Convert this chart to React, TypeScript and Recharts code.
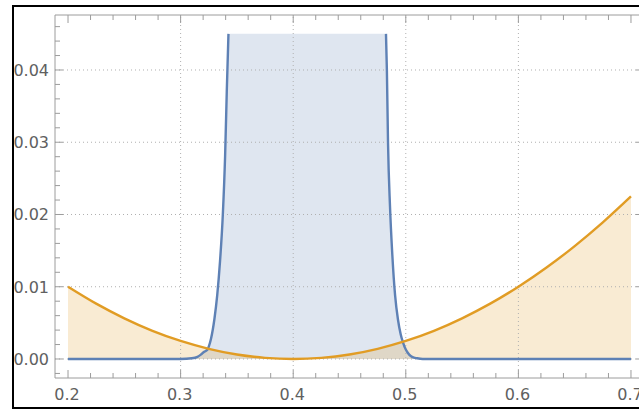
import React from 'react';
import { ComposedChart, Area, Line, XAxis, YAxis, ReferenceLine } from 'recharts';

// x positions (union of both series' sample points)
const xs = [
  0.2, 0.225, 0.25, 0.275, 0.3, 0.31, 0.315, 0.318, 0.321, 0.324, 0.325, 0.327, 0.33,
  0.3325, 0.335, 0.3375, 0.3395, 0.341, 0.3425, 0.35, 0.375, 0.4, 0.425, 0.45, 0.475,
  0.4824, 0.4832, 0.4842, 0.486, 0.488, 0.4905, 0.493, 0.4955, 0.4975, 0.5, 0.503,
  0.506, 0.51, 0.515, 0.525, 0.55, 0.575, 0.6, 0.625, 0.65, 0.675, 0.7,
];

// orange series (null where not sampled)
const orangeY: (number | null)[] = [
  0.01, 0.00766, 0.00563, 0.0039, 0.0025, null, null, null, null, null, 0.00141, null, null,
  null, null, null, null, null, null, 0.000625, 0.00016, 0, 0.00016, 0.000625, 0.00141,
  null, null, null, null, null, null, null, null, null, 0.0025, null,
  null, null, null, 0.0039, 0.00563, 0.00766, 0.01, 0.01266, 0.01563, 0.01891, 0.0225,
];

// blue series (clipped at the plot range top, 0.045)
const blueY = [
  0, 0, 0, 0, 0, 0.0001, 0.0003, 0.0006, 0.001, 0.0013, 0.0017, 0.0028, 0.0055,
  0.0088, 0.0135, 0.02, 0.028, 0.037, 0.045, 0.045, 0.045, 0.045, 0.045, 0.045, 0.045,
  0.045, 0.04, 0.03, 0.021, 0.0145, 0.0088, 0.0055, 0.0034, 0.0023, 0.0013, 0.0006,
  0.00025, 0.0001, 0, 0, 0, 0, 0, 0, 0, 0, 0,
];
const blueClipStart = 0.3425;
const blueClipEnd = 0.4824;

const xMajorTicks = [0.2, 0.3, 0.4, 0.5, 0.6, 0.7];
const xTickLabels = ['0.2', '0.3', '0.4', '0.5', '0.6', '0.7'];
const xMinorTicks = [
  0.22, 0.24, 0.26, 0.28, 0.32, 0.34, 0.36, 0.38, 0.42, 0.44, 0.46, 0.48,
  0.52, 0.54, 0.56, 0.58, 0.62, 0.64, 0.66, 0.68,
];
const yMajorTicks = [0, 0.01, 0.02, 0.03, 0.04];
const yTickLabels = ['0.00', '0.01', '0.02', '0.03', '0.04'];
const yMinorTicks = [
  -0.002, 0.002, 0.004, 0.006, 0.008, 0.012, 0.014, 0.016, 0.018, 0.022, 0.024, 0.026,
  0.028, 0.032, 0.034, 0.036, 0.038, 0.042, 0.044, 0.046,
];
const xGridValues = [0.3, 0.4, 0.5, 0.6];
const yGridValues = [0, 0.01, 0.02, 0.03, 0.04];

const X_DOMAIN: [number, number] = [0.18844, 0.71156];
const Y_DOMAIN: [number, number] = [-0.00263, 0.04761];

const BLUE = '#5e81b5';
const ORANGE = '#e19c24';
const FRAME = '#9c9c9c';
const LABEL = '#606060';
const FONT = 'DejaVu Sans';

const data = xs.map((x, i) => ({
  x,
  orange: orangeY[i],
  blueFill: blueY[i],
  blueLine: x > blueClipStart && x < blueClipEnd ? null : blueY[i],
}));

const allX = [...xMajorTicks, ...xMinorTicks].sort((a, b) => a - b);
const allY = [...yMajorTicks, ...yMinorTicks].sort((a, b) => a - b);

type Side = 'bottom' | 'top' | 'left' | 'right';

const makeTick = (side: Side, majors: number[], labels?: string[]) => (props: any) => {
  const { x, y, payload } = props;
  const idx = majors.indexOf(payload.value);
  const len = idx >= 0 ? 8 : 5;
  let line: React.ReactNode = null;
  let label: React.ReactNode = null;
  if (side === 'bottom') {
    line = <line x1={x} x2={x} y1={y} y2={y - len} stroke={FRAME} strokeWidth={1} />;
    if (labels && idx >= 0)
      label = (
        <text x={x - 1} y={y + 22} textAnchor="middle" fontFamily={FONT} fontSize={16} fill={LABEL}>
          {labels[idx]}
        </text>
      );
  } else if (side === 'top') {
    line = <line x1={x} x2={x} y1={y} y2={y + len} stroke={FRAME} strokeWidth={1} />;
  } else if (side === 'left') {
    line = <line x1={x} x2={x + len} y1={y} y2={y} stroke={FRAME} strokeWidth={1} />;
    if (labels && idx >= 0)
      label = (
        <text x={49} y={y + 6} textAnchor="end" fontFamily={FONT} fontSize={16} fill={LABEL}>
          {labels[idx]}
        </text>
      );
  } else {
    line = <line x1={x} x2={x - len} y1={y} y2={y} stroke={FRAME} strokeWidth={1} />;
  }
  return (
    <g>
      {line}
      {label}
    </g>
  );
};

export default function App() {
  return (
    <div
      style={{
        position: 'absolute',
        left: 0,
        top: 0,
        width: 639,
        height: 410,
        overflow: 'hidden',
        background: '#fff',
      }}
    >
      <ComposedChart width={660} height={410} data={data} margin={{ top: 14, right: 0, bottom: 0, left: 0 }}>
        <XAxis
          dataKey="x"
          type="number"
          domain={X_DOMAIN}
          allowDataOverflow
          ticks={allX}
          interval={0}
          tickSize={0}
          tickMargin={0}
          height={32}
          axisLine={{ stroke: FRAME, strokeWidth: 1 }}
          tickLine={false}
          tick={makeTick('bottom', xMajorTicks, xTickLabels)}
        />
        <XAxis
          xAxisId="top"
          orientation="top"
          dataKey="x"
          type="number"
          domain={X_DOMAIN}
          allowDataOverflow
          ticks={allX}
          interval={0}
          tickSize={0}
          tickMargin={0}
          height={1}
          axisLine={{ stroke: FRAME, strokeWidth: 1 }}
          tickLine={false}
          tick={makeTick('top', xMajorTicks)}
        />
        <YAxis
          type="number"
          domain={Y_DOMAIN}
          allowDataOverflow
          ticks={allY}
          interval={0}
          tickSize={0}
          tickMargin={0}
          width={55}
          axisLine={{ stroke: FRAME, strokeWidth: 1 }}
          tickLine={false}
          tick={makeTick('left', yMajorTicks, yTickLabels)}
        />
        <YAxis
          yAxisId="right"
          orientation="right"
          type="number"
          domain={Y_DOMAIN}
          allowDataOverflow
          ticks={allY}
          interval={0}
          tickSize={0}
          tickMargin={0}
          width={16}
          axisLine={{ stroke: FRAME, strokeWidth: 1 }}
          tickLine={false}
          tick={makeTick('right', yMajorTicks)}
        />
        {xGridValues.map((v) => (
          <ReferenceLine key={'gx' + v} x={v} stroke="#b0b0b0" strokeDasharray="1 3" strokeWidth={1} />
        ))}
        {yGridValues.map((v) => (
          <ReferenceLine key={'gy' + v} y={v} stroke="#b0b0b0" strokeDasharray="1 3" strokeWidth={1} />
        ))}
        <Area
          dataKey="blueFill"
          type="monotone"
          baseValue={0}
          stroke="none"
          fill={BLUE}
          fillOpacity={0.2}
          dot={false}
          activeDot={false}
          isAnimationActive={false}
        />
        <Area
          dataKey="orange"
          type="monotone"
          baseValue={0}
          connectNulls
          stroke="none"
          fill={ORANGE}
          fillOpacity={0.2}
          dot={false}
          activeDot={false}
          isAnimationActive={false}
        />
        <Line
          dataKey="blueLine"
          type="monotone"
          stroke={BLUE}
          strokeWidth={2.4}
          dot={false}
          activeDot={false}
          isAnimationActive={false}
        />
        <Line
          dataKey="orange"
          type="monotone"
          connectNulls
          stroke={ORANGE}
          strokeWidth={2.4}
          dot={false}
          activeDot={false}
          isAnimationActive={false}
        />
      </ComposedChart>
      <div
        style={{
          position: 'absolute',
          left: 12,
          top: 5,
          width: 700,
          height: 404,
          border: '2px solid #000',
          boxSizing: 'border-box',
          pointerEvents: 'none',
        }}
      />
    </div>
  );
}
